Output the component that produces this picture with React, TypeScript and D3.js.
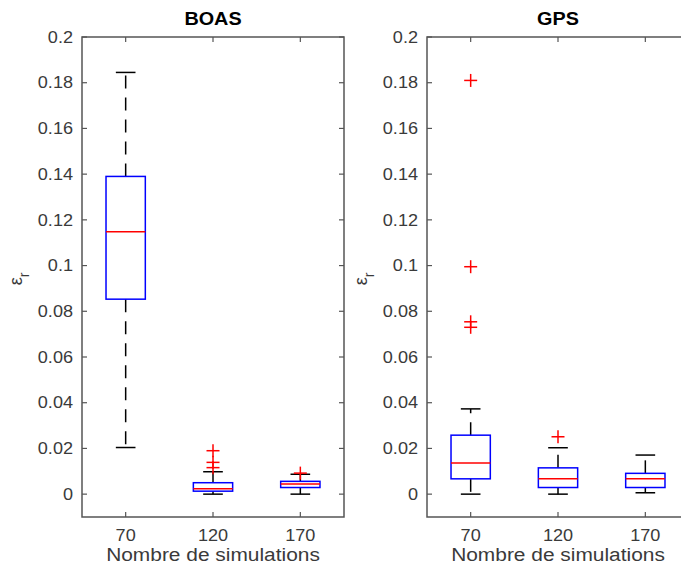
import React from 'react';
import * as d3 from 'd3';

const categories = ['70', '120', '170'];
const yTicks = [0, 0.02, 0.04, 0.06, 0.08, 0.1, 0.12, 0.14, 0.16, 0.18, 0.2];

// BOAS
const boasLower = [0.0204, 0, 0];
const boasQ1 = [0.0853, 0.0013, 0.0029];
const boasMedian = [0.1148, 0.0024, 0.0044];
const boasQ3 = [0.139, 0.005, 0.0056];
const boasUpper = [0.1845, 0.0098, 0.0087];
const boasOutliers: number[][] = [[], [0.019, 0.0139, 0.0116], [0.0092]];

// GPS
const gpsLower = [0, 0, 0.0006];
const gpsQ1 = [0.0067, 0.0029, 0.0029];
const gpsMedian = [0.0136, 0.0067, 0.0067];
const gpsQ3 = [0.0258, 0.0115, 0.0091];
const gpsUpper = [0.0373, 0.0203, 0.0171];
const gpsOutliers: number[][] = [[0.181, 0.0995, 0.0754, 0.073], [0.0251], []];

const W = 681;
const H = 574;
const TOP = 37;
const BOTTOM = 517;
const PW = 262;
const FONT = '"Liberation Sans", Arial, Helvetica, sans-serif';
const AXIS = '#555555';
const TEXT = '#3a3a3a';

type PanelProps = {
  x0: number;
  title: string;
  lower: number[];
  q1: number[];
  median: number[];
  q3: number[];
  upper: number[];
  outliers: number[][];
};

function Panel({ x0, title, lower, q1, median, q3, upper, outliers }: PanelProps) {
  const x = d3.scaleBand<string>().domain(categories).range([x0, x0 + PW]).paddingInner(0).paddingOuter(0);
  const cx = (c: string) => (x(c) as number) + x.bandwidth() / 2;
  const y = d3.scaleLinear().domain([-0.01, 0.2]).range([BOTTOM, TOP]);
  const bw = x.bandwidth() * 0.45;
  const cw = bw / 2;
  const dash = '13,9';
  const tl = 5;
  return (
    <g>
      <g transform={`translate(${x0 + PW / 2},25) scale(1.1,1)`}>
        <text x={0} y={0} textAnchor="middle" fontFamily={FONT} fontWeight="bold" fontSize={18} fill="#000">
          {title}
        </text>
      </g>
      <rect x={x0} y={TOP} width={PW} height={BOTTOM - TOP} fill="none" stroke={AXIS} strokeWidth={1.5} />
      {yTicks.map((t) => (
        <g key={t}>
          <line x1={x0} x2={x0 + tl} y1={y(t)} y2={y(t)} stroke={AXIS} strokeWidth={1.2} />
          <line x1={x0 + PW} x2={x0 + PW - tl} y1={y(t)} y2={y(t)} stroke={AXIS} strokeWidth={1.2} />
          <g transform={`translate(${x0 - 9},${y(t)}) scale(1.13,1)`}>
            <text x={0} y={0} dy="0.36em" textAnchor="end" fontFamily={FONT} fontSize={16} fill={TEXT}>
              {String(+t.toFixed(2))}
            </text>
          </g>
        </g>
      ))}
      {categories.map((c) => (
        <g key={c}>
          <line x1={cx(c)} x2={cx(c)} y1={BOTTOM} y2={BOTTOM - tl} stroke={AXIS} strokeWidth={1.2} />
          <line x1={cx(c)} x2={cx(c)} y1={TOP} y2={TOP + tl} stroke={AXIS} strokeWidth={1.2} />
          <g transform={`translate(${cx(c)},541) scale(1.13,1)`}>
            <text x={0} y={0} textAnchor="middle" fontFamily={FONT} fontSize={16} fill={TEXT}>
              {c}
            </text>
          </g>
        </g>
      ))}
      <g transform={`translate(${x0 + PW / 2},561) scale(1.1,1)`}>
        <text x={0} y={0} textAnchor="middle" fontFamily={FONT} fontSize={19} fill={TEXT}>
          Nombre de simulations
        </text>
      </g>
      <text transform={`translate(${x0 - 60},${(TOP + BOTTOM) / 2 + 2}) rotate(-90)`} textAnchor="middle" fontFamily={FONT} fontSize={18} fill={TEXT}>
        ε<tspan dy={7} fontSize={14}>r</tspan>
      </text>
      {categories.map((c, i) => {
        const xc = cx(c);
        return (
          <g key={'b' + c}>
            <line x1={xc} x2={xc} y1={y(q3[i])} y2={y(upper[i])} stroke="#000" strokeWidth={1.5} strokeDasharray={dash} />
            <line x1={xc} x2={xc} y1={y(q1[i])} y2={y(lower[i])} stroke="#000" strokeWidth={1.5} strokeDasharray={dash} />
            <line x1={xc - cw / 2} x2={xc + cw / 2} y1={y(upper[i])} y2={y(upper[i])} stroke="#000" strokeWidth={1.5} />
            <line x1={xc - cw / 2} x2={xc + cw / 2} y1={y(lower[i])} y2={y(lower[i])} stroke="#000" strokeWidth={1.5} />
            <rect x={xc - bw / 2} y={y(q3[i])} width={bw} height={y(q1[i]) - y(q3[i])} fill="none" stroke="#0000ff" strokeWidth={1.5} />
            <line x1={xc - bw / 2} x2={xc + bw / 2} y1={y(median[i])} y2={y(median[i])} stroke="#ff0000" strokeWidth={1.5} />
            {outliers[i].map((o, k) => (
              <g key={k} stroke="#ff0000" strokeWidth={1.5}>
                <line x1={xc - 6.5} x2={xc + 6.5} y1={y(o)} y2={y(o)} />
                <line x1={xc} x2={xc} y1={y(o) - 6.5} y2={y(o) + 6.5} />
              </g>
            ))}
          </g>
        );
      })}
    </g>
  );
}

export default function App() {
  return (
    <svg width={W} height={H} style={{ position: 'absolute', left: 0, top: 0, background: '#fff' }}>
      <rect width={W} height={H} fill="#fff" />
      <Panel x0={82} title="BOAS" lower={boasLower} q1={boasQ1} median={boasMedian} q3={boasQ3} upper={boasUpper} outliers={boasOutliers} />
      <Panel x0={427} title="GPS" lower={gpsLower} q1={gpsQ1} median={gpsMedian} q3={gpsQ3} upper={gpsUpper} outliers={gpsOutliers} />
    </svg>
  );
}
